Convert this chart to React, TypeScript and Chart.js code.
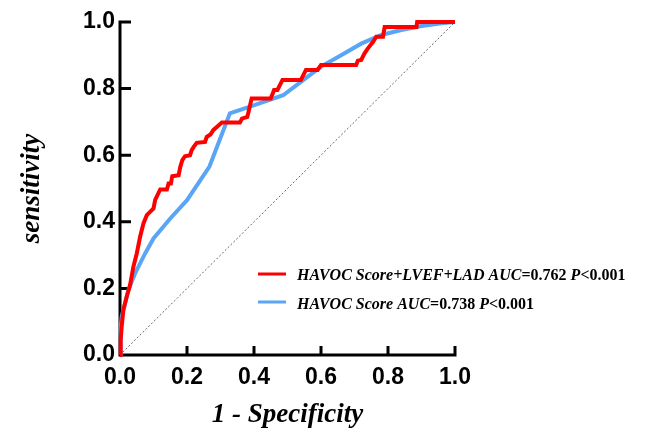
import React, { useEffect, useRef } from "react";
import { Chart, registerables } from "chart.js";

Chart.register(...registerables);

const tickValues = [0, 0.2, 0.4, 0.6, 0.8, 1.0];

const comboX = [0, 0.002, 0.005, 0.01, 0.02, 0.03, 0.04, 0.05, 0.06, 0.07, 0.08, 0.095, 0.1, 0.105, 0.12, 0.14, 0.145, 0.152, 0.156, 0.175, 0.18, 0.186, 0.194, 0.209, 0.214, 0.22, 0.229, 0.254, 0.259, 0.27, 0.279, 0.289, 0.304, 0.358, 0.364, 0.38, 0.386, 0.393, 0.45, 0.46, 0.47, 0.485, 0.54, 0.555, 0.59, 0.6, 0.705, 0.71, 0.72, 0.73, 0.74, 0.755, 0.765, 0.785, 0.79, 0.885, 0.887, 1];
const comboY = [0, 0.045, 0.085, 0.135, 0.175, 0.21, 0.265, 0.305, 0.355, 0.395, 0.42, 0.435, 0.44, 0.466, 0.497, 0.497, 0.515, 0.515, 0.537, 0.54, 0.565, 0.585, 0.597, 0.6, 0.615, 0.625, 0.637, 0.64, 0.655, 0.662, 0.676, 0.685, 0.698, 0.698, 0.71, 0.715, 0.74, 0.77, 0.77, 0.796, 0.796, 0.826, 0.826, 0.856, 0.856, 0.871, 0.871, 0.884, 0.886, 0.906, 0.921, 0.94, 0.956, 0.956, 0.985, 0.985, 1, 1];

const havocX = [0, 0.002, 0.005, 0.025, 0.045, 0.075, 0.1, 0.15, 0.2, 0.267, 0.328, 0.388, 0.487, 0.54, 0.6, 0.66, 0.72, 0.78, 0.84, 0.9, 0.96, 1];
const havocY = [0, 0.08, 0.115, 0.195, 0.245, 0.305, 0.35, 0.41, 0.465, 0.566, 0.726, 0.746, 0.78, 0.82, 0.866, 0.9, 0.935, 0.961, 0.976, 0.988, 0.996, 1];

const refX = [0, 1];
const refY = [0, 1];

const RED = "#ff0000";
const BLUE = "#5aa5f5";

const legendEntries = [
  {
    color: RED,
    parts: [
      { text: "HAVOC Score+LVEF+LAD AUC", italic: true },
      { text: "=0.762 ", italic: false },
      { text: "P", italic: true },
      { text: "<0.001", italic: false },
    ],
  },
  {
    color: BLUE,
    parts: [
      { text: "HAVOC Score AUC", italic: true },
      { text: "=0.738 ", italic: false },
      { text: "P", italic: true },
      { text: "<0.001", italic: false },
    ],
  },
];

const xTitle = "1 - Specificity";
const yTitle = "sensitivity";

const toPoints = (xs: number[], ys: number[]) => xs.map((x, i) => ({ x, y: ys[i] }));

const decorPlugin = {
  id: "decor",
  beforeDatasetsDraw(chart: any) {
    const ctx = chart.ctx;
    const xs = chart.scales.x;
    const ys = chart.scales.y;
    const x0 = xs.getPixelForValue(0);
    const x1 = xs.getPixelForValue(1);
    const y0 = ys.getPixelForValue(0);
    const y1 = ys.getPixelForValue(1);
    ctx.save();
    ctx.strokeStyle = "#000";
    ctx.lineWidth = 3;
    ctx.lineCap = "butt";
    ctx.beginPath();
    ctx.moveTo(x0, y1 - 1.5);
    ctx.lineTo(x0, y0 + 1.5);
    ctx.moveTo(x0 - 1.5, y0);
    ctx.lineTo(x1 + 1.5, y0);
    tickValues.forEach((v) => {
      const py = ys.getPixelForValue(v);
      ctx.moveTo(x0, py);
      ctx.lineTo(x0 + 11, py);
      const px = xs.getPixelForValue(v);
      ctx.moveTo(px, y0);
      ctx.lineTo(px, y0 - 9);
    });
    ctx.stroke();
    ctx.restore();
  },
  afterDraw(chart: any) {
    const ctx = chart.ctx;
    const area = chart.chartArea;
    ctx.save();
    ctx.fillStyle = "#000";
    // axis titles
    ctx.font = "italic bold 27px 'Liberation Serif', 'Times New Roman', serif";
    ctx.textAlign = "center";
    ctx.textBaseline = "alphabetic";
    ctx.fillText(xTitle, (area.left + area.right) / 2, 422);
    ctx.save();
    ctx.translate(39, (area.top + area.bottom) / 2);
    ctx.rotate(-Math.PI / 2);
    ctx.fillText(yTitle, 0, 0);
    ctx.restore();
    // legend
    ctx.textAlign = "left";
    const lineYs = [274, 302];
    const baseYs = [280, 308.5];
    legendEntries.forEach((entry, i) => {
      ctx.strokeStyle = entry.color;
      ctx.lineWidth = 3;
      ctx.beginPath();
      ctx.moveTo(258, lineYs[i]);
      ctx.lineTo(286, lineYs[i]);
      ctx.stroke();
      let x = 297;
      entry.parts.forEach((p) => {
        ctx.font = (p.italic ? "italic " : "") + "bold 16px 'Liberation Serif', 'Times New Roman', serif";
        ctx.fillText(p.text, x, baseYs[i]);
        x += ctx.measureText(p.text).width;
      });
    });
    ctx.restore();
  },
};

export default function App() {
  const ref = useRef<HTMLCanvasElement | null>(null);
  useEffect(() => {
    if (!ref.current) return;
    const tickFont = { family: "'Liberation Sans', Arial, sans-serif", size: 23, weight: "bold" as const };
    const chart = new Chart(ref.current, {
      type: "line",
      data: {
        datasets: [
          {
            label: "HAVOC Score+LVEF+LAD",
            data: toPoints(comboX, comboY),
            borderColor: RED,
            borderWidth: 4,
            pointRadius: 0,
            tension: 0,
            clip: false as any,
            order: 0,
          },
          {
            label: "HAVOC Score",
            data: toPoints(havocX, havocY),
            borderColor: BLUE,
            borderWidth: 4,
            pointRadius: 0,
            tension: 0,
            clip: false as any,
            order: 1,
          },
          {
            label: "Reference",
            data: toPoints(refX, refY),
            borderColor: "#666666",
            borderWidth: 1,
            borderDash: [2, 2],
            pointRadius: 0,
            clip: false as any,
            order: 2,
          },
        ],
      },
      options: {
        responsive: false,
        animation: false,
        layout: { padding: { left: 0, top: 22, right: 190, bottom: 0 } },
        plugins: { legend: { display: false }, tooltip: { enabled: false } },
        scales: {
          x: {
            type: "linear",
            min: 0,
            max: 1,
            grid: { display: false, drawTicks: false },
            border: { display: false },
            ticks: {
              stepSize: 0.2,
              color: "#000",
              font: tickFont,
              padding: 9,
              maxRotation: 0,
              callback: (v: any) => Number(v).toFixed(1),
            },
            afterFit: (s: any) => {
              s.height = 73;
            },
          },
          y: {
            type: "linear",
            min: 0,
            max: 1,
            grid: { display: false, drawTicks: false },
            border: { display: false },
            ticks: {
              stepSize: 0.2,
              color: "#000",
              font: tickFont,
              padding: 5,
              callback: (v: any) => Number(v).toFixed(1),
            },
            afterFit: (s: any) => {
              s.width = 120;
            },
          },
        },
      },
      plugins: [decorPlugin],
    });
    return () => chart.destroy();
  }, []);
  return (
    <div style={{ position: "absolute", left: 0, top: 0, width: 645, height: 428, background: "#fff" }}>
      <canvas ref={ref} width={645} height={428} />
    </div>
  );
}
